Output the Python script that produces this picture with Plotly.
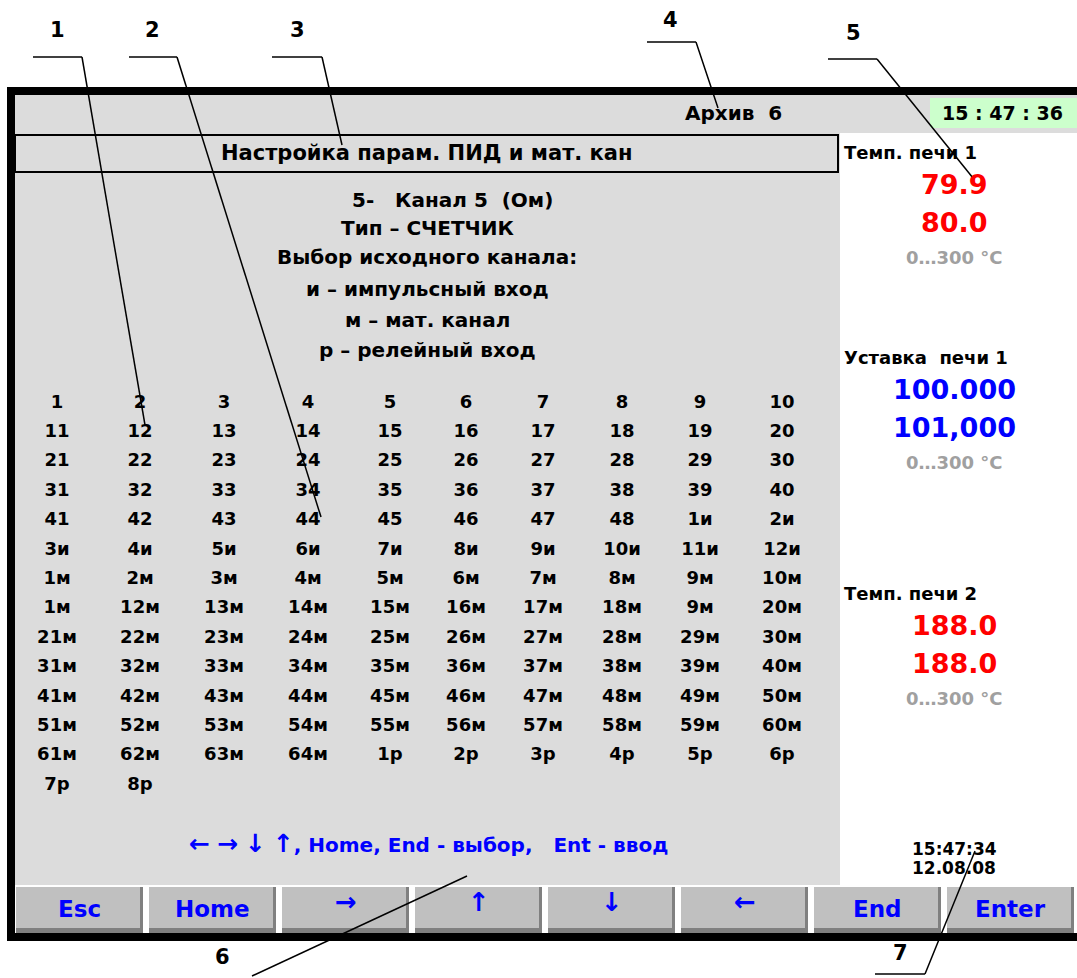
import plotly.graph_objects as go

W, H = 1077, 978
FONT = "'DejaVu Sans', Lato, sans-serif"

# --------------------------------------------------------------
# Screen content (texts and values)
# --------------------------------------------------------------
archive_label = "Архив  6"
clock_top = "15 : 47 : 36"
panel_title = "Настройка парам. ПИД и мат. кан"
info_lines = [
    "5-   Канал 5  (Ом)",
    "Тип – СЧЕТЧИК",
    "Выбор исходного канала:",
    "и – импульсный вход",
    "м – мат. канал",
    "р – релейный вход",
]

grid_rows = [
    ["1", "2", "3", "4", "5", "6", "7", "8", "9", "10"],
    ["11", "12", "13", "14", "15", "16", "17", "18", "19", "20"],
    ["21", "22", "23", "24", "25", "26", "27", "28", "29", "30"],
    ["31", "32", "33", "34", "35", "36", "37", "38", "39", "40"],
    ["41", "42", "43", "44", "45", "46", "47", "48", "1и", "2и"],
    ["3и", "4и", "5и", "6и", "7и", "8и", "9и", "10и", "11и", "12и"],
    ["1м", "2м", "3м", "4м", "5м", "6м", "7м", "8м", "9м", "10м"],
    ["1м", "12м", "13м", "14м", "15м", "16м", "17м", "18м", "9м", "20м"],
    ["21м", "22м", "23м", "24м", "25м", "26м", "27м", "28м", "29м", "30м"],
    ["31м", "32м", "33м", "34м", "35м", "36м", "37м", "38м", "39м", "40м"],
    ["41м", "42м", "43м", "44м", "45м", "46м", "47м", "48м", "49м", "50м"],
    ["51м", "52м", "53м", "54м", "55м", "56м", "57м", "58м", "59м", "60м"],
    ["61м", "62м", "63м", "64м", "1р", "2р", "3р", "4р", "5р", "6р"],
    ["7р", "8р"],
]

channel_names = ["Темп. печи 1", "Уставка  печи 1", "Темп. печи 2"]
channel_values = ["79.9", "100.000", "188.0"]
channel_second = ["80.0", "101,000", "188.0"]
channel_ranges = ["0…300 °C", "0…300 °C", "0…300 °C"]

help_arrows = ["←", "→", "↓", "↑"]
help_text = ", Home, End - выбор,   Ent - ввод"
clock_bottom = ["15:47:34", "12.08.08"]
button_labels = ["Esc", "Home", "→", "↑", "↓", "←", "End", "Enter"]
callout_numbers = ["1", "2", "3", "4", "5", "6", "7"]

# --------------------------------------------------------------
# Layout constants (pixels, y grows downward)
# --------------------------------------------------------------
GRAY = "#dcdcdc"
BTN = "#c0c0c0"
BLUE = "#0000ff"
RED = "#ff0000"
RANGE_GRAY = "#a0a0a0"
channel_colors = [RED, BLUE, RED]

col_x = [57, 140, 224, 308, 390, 466, 543, 622, 700, 782]
row_y0, row_dy = 403, 29.4
channel_y = [152, 357, 593]

# callout: label position, horizontal tick (x0, x1, y), pointer end
callouts = [
    ((57, 30), (33, 82, 57), (145, 425)),
    ((152, 30), (129, 177, 57), (321, 517)),
    ((297, 30), (272, 322, 57), (342, 145)),
    ((670, 20), (647, 696, 42), (718, 108)),
    ((853, 33), (828, 877, 59), (973, 178)),
    ((222, 957), None, (467, 876)),
    ((900, 953), (875, 925, 974), (975, 851)),
]
callout_start_6 = (252, 976)

fig = go.Figure()
shapes = []
ann = []


def rect(x0, y0, x1, y1, fill, line_color=None, lw=0):
    shapes.append(dict(type="rect", xref="x", yref="y", x0=x0, y0=y0, x1=x1, y1=y1,
                       fillcolor=fill, line=dict(color=line_color or fill, width=lw),
                       layer="below"))


def line(x0, y0, x1, y1, color="black", lw=1.5):
    shapes.append(dict(type="line", xref="x", yref="y", x0=x0, y0=y0, x1=x1, y1=y1,
                       line=dict(color=color, width=lw), layer="above"))


def text(x, y, s, size=18, color="black", anchor="center", bold=True):
    ann.append(dict(x=x, y=y, xref="x", yref="y", text=f"<b>{s}</b>" if bold else s,
                    showarrow=False, xanchor=anchor, yanchor="middle",
                    font=dict(family=FONT, size=size, color=color)))


# screen background
rect(15, 95, 1090, 133, GRAY)            # header strip
rect(15, 133, 840, 885, GRAY)            # left panel
rect(930, 98, 1077, 128, "#ccffcc")      # clock box
rect(15, 135, 838, 172, GRAY, "black", 2)  # title box

# buttons
for i, lab in enumerate(button_labels):
    x0 = 16 + 133 * i
    x1 = x0 + 127
    rect(x0, 887, x1, 933, BTN)
    rect(x0, 928, x1, 933, "#808080")
    rect(x1 - 3, 887, x1, 933, "#808080")
    is_arrow = lab in ("→", "↑", "↓", "←")
    text((x0 + x1) / 2, 902 if is_arrow else 909, lab,
         size=26 if is_arrow else 23, color=BLUE)

# outer frame
shapes.append(dict(type="rect", xref="x", yref="y", x0=11, y0=91, x1=1095, y1=937,
                   line=dict(color="black", width=8), fillcolor="rgba(0,0,0,0)",
                   layer="above"))

# header texts
text(733, 113, archive_label, size=20)
text(1002, 113, clock_top, size=19)
text(427, 153, panel_title, size=21)

info_y = [200, 228, 257, 289, 320, 350]
for y, s in zip(info_y, info_lines):
    text(452 if s.startswith("5-") else 427, y, s, size=20)

# channel grid as a text trace on the pixel axes
gx, gy, gt = [], [], []
for r, row in enumerate(grid_rows):
    for c, lab in enumerate(row):
        gx.append(col_x[c])
        gy.append(row_y0 + r * row_dy)
        gt.append(f"<b>{lab}</b>")
fig.add_trace(go.Scatter(x=gx, y=gy, text=gt, mode="text",
                         textfont=dict(family=FONT, size=18, color="black"),
                         hoverinfo="skip", showlegend=False))

# right panel
for y, name, v1, v2, rg, col in zip(channel_y, channel_names, channel_values,
                                    channel_second, channel_ranges, channel_colors):
    text(842, y, name, size=18, anchor="left")
    text(954, y + 32, v1, size=27, color=col)
    text(954, y + 70, v2, size=27, color=col)
    text(954, y + 105, rg, size=18, color=RANGE_GRAY)

arrows_html = " ".join(f"<span style='font-size:25px'>{a}</span>" for a in help_arrows)
text(428, 843, arrows_html + help_text, size=20, color=BLUE)
text(954, 849, clock_bottom[0], size=17)
text(954, 868, clock_bottom[1], size=17)

# callouts
for num, (lab, tick, end) in zip(callout_numbers, callouts):
    text(lab[0], lab[1], num, size=21)
    if tick is not None:
        line(tick[0], tick[2], tick[1], tick[2])
        line(tick[1], tick[2], end[0], end[1])
    else:
        line(callout_start_6[0], callout_start_6[1], end[0], end[1])

fig.update_layout(
    width=W, height=H,
    margin=dict(l=0, r=0, t=0, b=0),
    paper_bgcolor="white", plot_bgcolor="white",
    xaxis=dict(range=[0, W], visible=False, fixedrange=True),
    yaxis=dict(range=[H, 0], visible=False, fixedrange=True),
    shapes=shapes, annotations=ann, showlegend=False,
)

# the page body has an 8px default margin; drop it so pixels line up
fig.write_html("out.html", config={"displayModeBar": False},
               post_script="document.body.style.margin='0';")
